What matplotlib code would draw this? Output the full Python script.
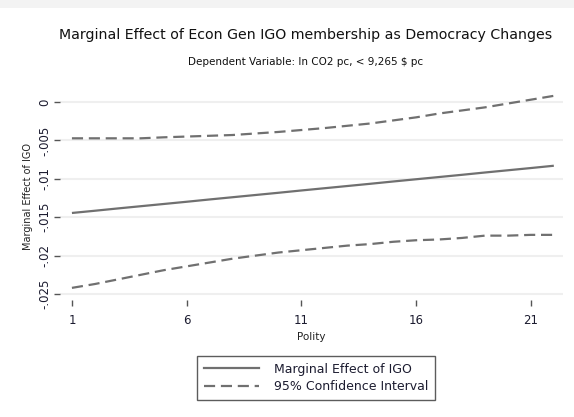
import matplotlib
matplotlib.use("Agg")
import matplotlib.pyplot as plt
from matplotlib.lines import Line2D
from matplotlib.patches import Rectangle

# Polity score and the estimated marginal effect with its 95% bounds
polity = [1, 2, 3, 4, 5, 6, 7, 8, 9, 10, 11, 12, 13, 14, 15, 16, 17, 18, 19, 20, 21, 22]
effect = [-0.01445, -0.01416, -0.01386, -0.01357, -0.01328, -0.01299, -0.01269,
          -0.01240, -0.01211, -0.01182, -0.01152, -0.01123, -0.01094, -0.01065,
          -0.01035, -0.01006, -0.00977, -0.00948, -0.00918, -0.00889, -0.00860,
          -0.00830]
upper = [-0.00473, -0.00473, -0.00473, -0.00473, -0.00460, -0.00450, -0.00440,
         -0.00430, -0.00410, -0.00390, -0.00365, -0.00340, -0.00310, -0.00280,
         -0.00240, -0.00200, -0.00150, -0.00110, -0.00070, -0.00020, 0.00030,
         0.00080]
lower = [-0.0242, -0.0237, -0.0231, -0.0225, -0.0219, -0.0214, -0.0209, -0.0204,
         -0.0200, -0.0196, -0.0193, -0.0190, -0.0187, -0.0185, -0.0182, -0.0180,
         -0.0179, -0.0177, -0.0174, -0.0174, -0.0173, -0.0173]

xticks = [1, 6, 11, 16, 21]
yticks = [-0.025, -0.02, -0.015, -0.01, -0.005, 0]
ytick_labels = ["-.025", "-.02", "-.015", "-.01", "-.005", "0"]

title = "Marginal Effect of Econ Gen IGO membership as Democracy Changes"
subtitle = "Dependent Variable: ln CO2 pc, < 9,265 $ pc"

plt.rcParams["font.family"] = ["DejaVu Sans"]
W, H = 574, 417
fig = plt.figure(figsize=(W / 100, H / 100), dpi=100)
fig.patch.set_facecolor("white")

# thin grey band along the top edge
fig.patches.append(Rectangle((0, 1 - 8 / H), 1, 8 / H, transform=fig.transFigure,
                             facecolor="#f3f3f3", edgecolor="none", zorder=0))

ax = fig.add_axes([60 / W, (H - 300) / H, (563 - 60) / W, (300 - 92) / H])
ax.set_xlim(0.48, 22.4)
ax.set_ylim(-0.02578, 0.0013)

for s in ax.spines.values():
    s.set_visible(False)

line_col = "#707070"
dash = (5.0, 2.6)
ax.plot(polity, effect, color=line_col, lw=1.6, solid_capstyle="butt", zorder=3)
ax.plot(polity, upper, color=line_col, lw=1.6, dashes=dash, zorder=3)
ax.plot(polity, lower, color=line_col, lw=1.6, dashes=dash, zorder=3)

ax.set_yticks(yticks)
ax.set_yticklabels(ytick_labels, rotation=90, va="center")
ax.set_xticks(xticks)
ax.set_xticklabels([str(t) for t in xticks])
ax.yaxis.grid(True, color="#efefef", lw=1.5, zorder=0)
ax.xaxis.grid(False)
ax.tick_params(axis="y", length=4, width=1, color="#555555", labelsize=8.5,
               labelcolor="#1c1c30", pad=2)
ax.tick_params(axis="x", length=4, width=1, color="#555555", labelsize=8.5,
               labelcolor="#1c1c30", pad=6, direction="out")

ax.set_xlabel("Polity", fontsize=7.5, color="#222222", labelpad=4)
ax.set_ylabel("Marginal Effect of IGO", fontsize=7, color="#222222", labelpad=4)

fig.text(306 / W, 1 - 35 / H, title, ha="center", va="center", fontsize=10.2,
         color="#111111")
fig.text(306 / W, 1 - 62 / H, subtitle, ha="center", va="center", fontsize=7.5,
         color="#111111")

handles = [Line2D([], [], color=line_col, lw=1.6),
           Line2D([], [], color=line_col, lw=1.6, dashes=dash)]
leg = fig.legend(handles, ["Marginal Effect of IGO", "95% Confidence Interval"],
                 loc="center", bbox_to_anchor=(316 / W, 1 - 378 / H),
                 fontsize=9, frameon=True, fancybox=False, handlelength=4.4,
                 handletextpad=1.2, borderpad=0.55, labelspacing=0.4)
leg.get_frame().set_edgecolor("#333333")
leg.get_frame().set_linewidth(1.0)
for t in leg.get_texts():
    t.set_color("#1c1c30")

fig.savefig("out.png", dpi=100, facecolor="white")
